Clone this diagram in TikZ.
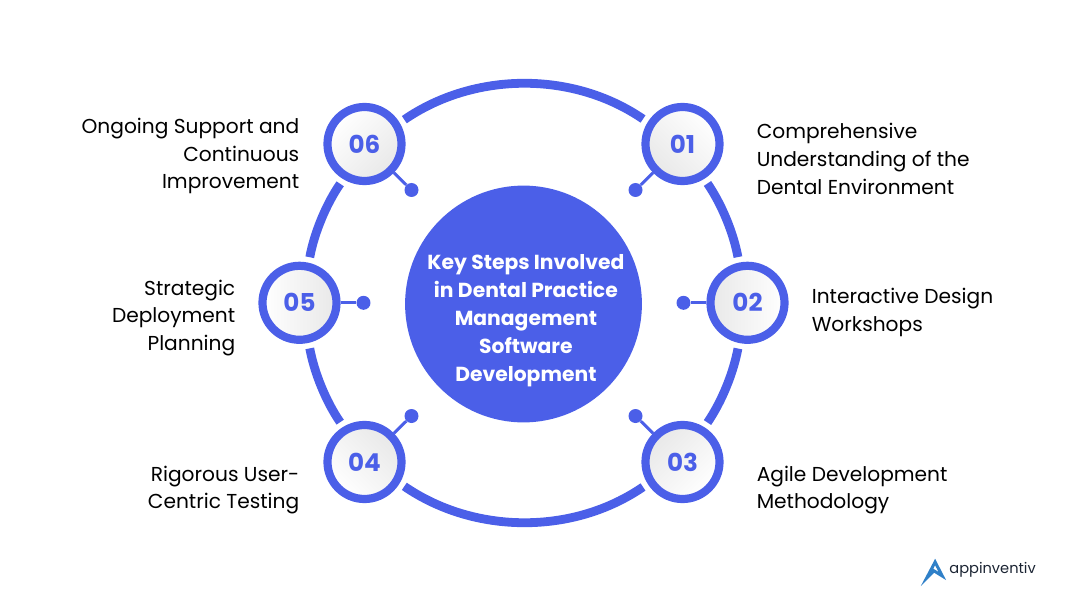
\documentclass[tikz,border=0pt]{standalone}
\usepackage{fontspec}
\setmainfont{Poppins}
\usepackage{xcolor}
\usepackage{tikz}
\usetikzlibrary{calc}
\definecolor{hubblue}{HTML}{4B5FE8}
\definecolor{logoblue}{HTML}{2F80C8}
\definecolor{logodark}{HTML}{1B2433}
\tikzstyle{numnode}=[circle, draw=hubblue, top color=white, bottom color=black!9,% the grey side looks at the hub
minimum size=18.5mm, line width=2.05mm, inner sep=0pt, text=hubblue, font=\fontsize{17.5}{20}\selectfont\bfseries]
\tikzstyle{dotnode}=[circle, fill=hubblue, minimum size=3.5mm, inner sep=0pt]
\tikzstyle{stem}=[hubblue, line width=0.75mm]
\tikzstyle{ringarc}=[hubblue, line width=2.2mm, shorten <=1.4mm, shorten >=1.4mm]
\tikzstyle{steplabel}=[inner sep=0pt, text=black, font=\fontsize{14.35}{19.84}\selectfont]

\begin{document}
\begin{tikzpicture}
\useasboundingbox (-13.0875,7.6) rectangle (13.9125,-7.525);
\node[circle, fill=hubblue, minimum size=59.2mm, inner sep=0pt] (hub) at (0,0) {};
\node[inner sep=0pt, align=center, text=white, font=\fontsize{14.45}{19.84}\selectfont\bfseries] (hubtext) at (0.06,-0.42) {Key Steps Involved\\in Dental Practice\\Management\\Software\\Development};
\node[numnode, shading angle=-45] (n1) at (3.975,4.0) {01};
\node[numnode, shading angle=-90] (n2) at (5.6,0.03) {02};
\node[numnode, shading angle=-135] (n3) at (3.975,-3.95) {03};
\node[numnode, shading angle=135] (n4) at (-3.975,-3.95) {04};
\node[numnode, shading angle=90] (n5) at (-5.6,0.03) {05};
\node[numnode, shading angle=45] (n6) at (-3.975,4.0) {06};
\node[dotnode] (d1) at (2.8,2.85) {};
\node[dotnode] (d2) at (4.0,0.03) {};
\node[dotnode] (d3) at (2.8,-2.8) {};
\node[dotnode] (d4) at (-2.8,-2.8) {};
\node[dotnode] (d5) at (-4.0,0.03) {};
\node[dotnode] (d6) at (-2.8,2.85) {};
\draw[stem] (n1) -- (d1);
\draw[stem] (n2) -- (d2);
\draw[stem] (n3) -- (d3);
\draw[stem] (n4) -- (d4);
\draw[stem] (n5) -- (d5);
\draw[stem] (n6) -- (d6);
% ring pieces
\draw[ringarc] (n6.31.5) to[out=34.5, in=145.5, looseness=.933] (n1.148.5);
\draw[ringarc] (n1.-58.5) to[out=-55.5, in=100.5, looseness=.861] (n2.102.3);
\draw[ringarc] (n2.-102.3) to[out=-100.5, in=55.5, looseness=.861] (n3.58.5);
\draw[ringarc] (n3.-148.5) to[out=-145.5, in=-34.5, looseness=.933] (n4.-31.5);
\draw[ringarc] (n4.121.5) to[out=124.5, in=-79.5, looseness=.861] (n5.-77.7);
\draw[ringarc] (n5.77.7) to[out=79.5, in=-124.5, looseness=.861] (n6.-121.5);
\node[steplabel, anchor=west, align=left] (t1) at (5.825,3.625) {Comprehensive\\Understanding of the\\Dental Environment};
\node[steplabel, anchor=west, align=left] (t2) at (7.2,-0.2) {Interactive Design\\Workshops};
\node[steplabel, anchor=west, align=left] (t3) at (5.825,-4.65) {Agile Development\\Methodology};
\node[steplabel, anchor=east, align=right] (t4) at (-5.6,-4.65) {Rigorous User-\\Centric Testing};
\node[steplabel, anchor=east, align=right] (t5) at (-7.2,-0.35) {Strategic\\Deployment\\Planning};
\node[steplabel, anchor=east, align=right] (t6) at (-5.6,3.7) {Ongoing Support and\\Continuous\\Improvement};
% logo
\draw[logoblue, line width=0.75mm, line join=miter] (10.08,-6.85) -- (10.29,-6.45) -- (10.47,-6.8) -- (10.26,-6.67) -- cycle;
\node[inner sep=0pt, anchor=west, text=logodark, font=\fontsize{10.4}{13}\selectfont] (logo) at (10.64,-6.65) {appinventiv};
\end{tikzpicture}
\end{document}
